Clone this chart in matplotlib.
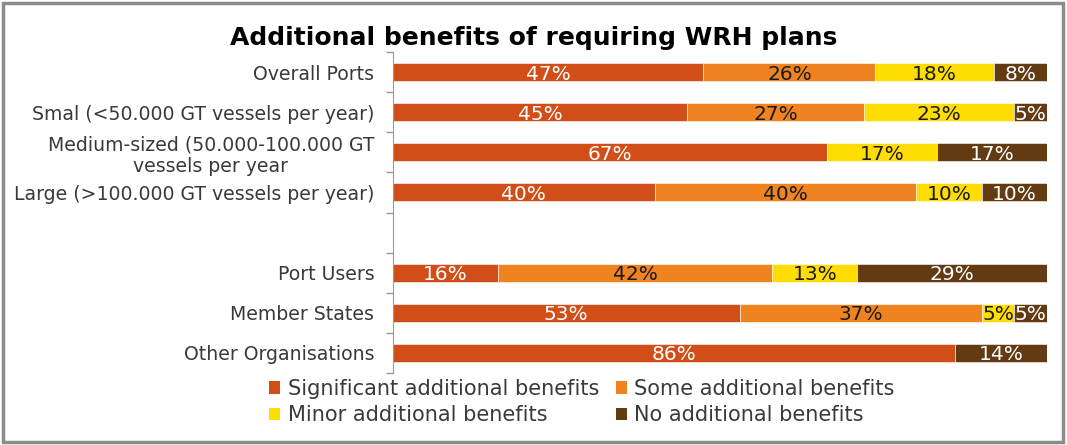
import numpy as np
import matplotlib
matplotlib.use("Agg")
import matplotlib.pyplot as plt
from matplotlib.patches import Rectangle, Patch

categories = [
    "Overall Ports",
    "Smal (<50.000 GT vessels per year)",
    "Medium-sized (50.000-100.000 GT\nvessels per year",
    "Large (>100.000 GT vessels per year)",
    "",
    "Port Users",
    "Member States",
    "Other Organisations",
]
series = [
    "Significant additional benefits",
    "Some additional benefits",
    "Minor additional benefits",
    "No additional benefits",
]
significant = [47, 45, 67, 40, 0, 16, 53, 86]
some = [26, 27, 0, 40, 0, 42, 37, 0]
minor = [18, 23, 17, 10, 0, 13, 5, 0]
none_ = [8, 5, 17, 10, 0, 29, 5, 14]

colors = ["#D24E18", "#EE831F", "#FFDD00", "#623B12"]
text_colors = ["white", "#1a1a1a", "#1a1a1a", "white"]

values = np.array([significant, some, minor, none_], dtype=float)
totals = values.sum(axis=0)
totals[totals == 0] = 1
shares = values / totals * 100  # 100% stacked

fig = plt.figure(figsize=(10.67, 4.45), dpi=100)
ax = fig.add_axes([0.3683, 0.1618, 0.613, 0.7213])

y = np.arange(len(categories))
left = np.zeros(len(categories))
for i in range(4):
    ax.barh(y, shares[i], left=left, height=0.45, color=colors[i],
            edgecolor="white", linewidth=0.4, label=series[i])
    for j in range(len(categories)):
        if values[i, j] > 0:
            ax.text(left[j] + shares[i, j] / 2, y[j] + 0.05,
                    f"{int(values[i, j])}%", ha="center", va="center",
                    fontsize=14.5, color=text_colors[i])
    left += shares[i]

ax.set_xlim(0, 100)
ax.set_ylim(len(categories) - 0.5, -0.5)
ax.set_yticks(y)
ax.set_yticklabels(categories, fontsize=13.6, color="#3a3a3a")
for lab in ax.get_yticklabels():
    lab.set_multialignment("center")
ax.set_yticks(np.arange(len(categories) + 1) - 0.5, minor=True)
ax.tick_params(axis="y", which="major", length=0, pad=13.5)
ax.tick_params(axis="y", which="minor", length=5, color="#9a9a9a", width=1)
ax.set_xticks([])
for s in ["top", "right", "bottom"]:
    ax.spines[s].set_visible(False)
ax.spines["left"].set_color("#9a9a9a")

fig.text(0.5, 0.915, "Additional benefits of requiring WRH plans",
         ha="center", va="center", fontsize=18, fontweight="bold")

handles = [Patch(facecolor=c, edgecolor="none") for c in colors]
fig.legend([handles[0], handles[2], handles[1], handles[3]],
           [series[0], series[2], series[1], series[3]],
           ncol=2, loc="upper left", bbox_to_anchor=(0.252, 0.148),
           frameon=False, fontsize=15, handlelength=0.55, handleheight=0.55,
           handletextpad=0.35, columnspacing=0.8, labelspacing=0.3,
           labelcolor="#3a3a3a", borderaxespad=0, borderpad=0)

fig.patches.append(Rectangle((0.003, 0.006), 0.993, 0.988, transform=fig.transFigure,
                             fill=False, edgecolor="#8c8c8c", linewidth=2.5))

fig.savefig("out.png", dpi=100)
